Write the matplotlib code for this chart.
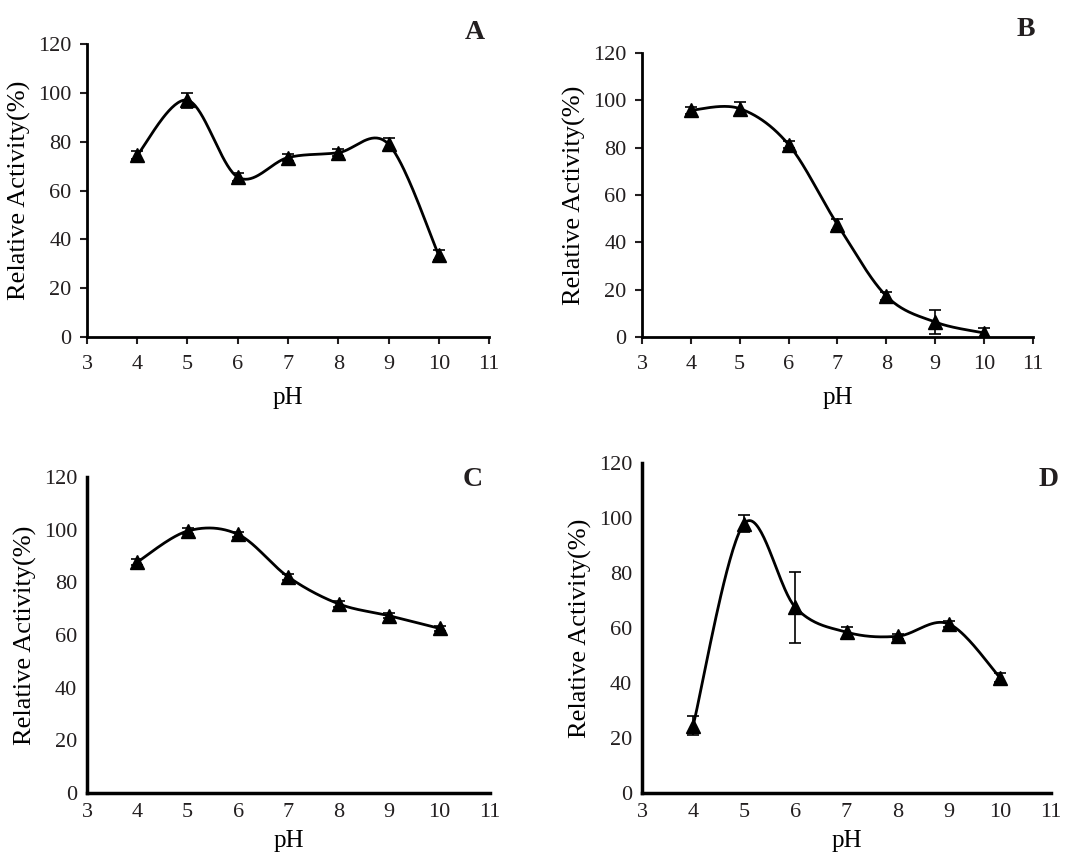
import numpy as np
import matplotlib
matplotlib.use("Agg")
import matplotlib.pyplot as plt

plt.rcParams['font.family'] = ['Liberation Serif', 'DejaVu Serif']
plt.rcParams['text.color'] = '#231f20'
plt.rcParams['xtick.color'] = '#231f20'
plt.rcParams['ytick.color'] = '#231f20'

# pH values shared by all panels
ph = [4, 5, 6, 7, 8, 9, 10]

# panel A
act_a = [74.5, 97, 65.5, 73.5, 75.5, 79, 33.5]
err_a = [1.5, 3, 1.5, 1.5, 1.5, 2.5, 2]
# panel B
act_b = [95.8, 96.5, 81.3, 47.5, 17.3, 6.3, 1.7]
err_b = [1.5, 3, 1.5, 2.5, 1.5, 5, 2]
# panel C
act_c = [87.7, 99.5, 98.2, 82, 71.8, 67.3, 62.5]
err_c = [1, 1, 1, 1, 1, 1, 1]
# panel D
act_d = [24.5, 98, 67.5, 58.5, 57, 61.5, 42]
err_d = [3.5, 3, 13, 2, 1, 1, 1.5]

panels = [
    ("A", act_a, err_a, [0.0809, 0.6077, 0.374, 0.341], True),
    ("B", act_b, err_b, [0.5972, 0.6077, 0.3637, 0.3306], True),
    ("C", act_c, err_c, [0.0809, 0.0768, 0.3749, 0.3679], False),
    ("D", act_d, err_d, [0.5972, 0.0768, 0.3805, 0.3842], False),
]
letter_pos = {"A": (0.442, 0.977), "B": (0.954, 0.980), "C": (0.440, 0.456), "D": (0.975, 0.456)}


def smooth(x, y, n=40):
    # Excel-style smoothed line (Catmull-Rom via Bezier segments)
    p = np.column_stack([x, y]).astype(float)
    ext = np.vstack([p[0], p, p[-1]])
    out = []
    t = np.linspace(0, 1, n)[:, None]
    for i in range(len(p) - 1):
        p0, p1, p2, p3 = ext[i], ext[i + 1], ext[i + 2], ext[i + 3]
        c1 = p1 + (p2 - p0) / 6
        c2 = p2 - (p3 - p1) / 6
        seg = ((1 - t) ** 3) * p1 + 3 * ((1 - t) ** 2) * t * c1 + 3 * (1 - t) * t ** 2 * c2 + t ** 3 * p2
        out.append(seg)
    out = np.vstack(out)
    return out[:, 0], out[:, 1]


fig = plt.figure(figsize=(10.75, 8.59), dpi=100)

for name, act, err, rect, ticks in panels:
    ax = fig.add_axes(rect)
    sx, sy = smooth(ph, act)
    ax.plot(sx, sy, color="black", lw=2)
    ax.errorbar(ph, act, yerr=err, fmt="^", color="black", ms=10,
                ecolor="black", elinewidth=1.2, capsize=4, capthick=1.2)
    ax.set_xlim(3, 11)
    ax.set_ylim(0, 120)
    ax.set_xticks(range(3, 12))
    ax.set_yticks(range(0, 121, 20))
    for s in ["top", "right"]:
        ax.spines[s].set_visible(False)
    lw = 2 if ticks else 2.5
    ax.spines["left"].set_linewidth(lw)
    ax.spines["bottom"].set_linewidth(lw)
    if ticks:
        ax.tick_params(direction="out", length=5, width=1.5, labelsize=16)
        ax.tick_params(axis="y", pad=6)
        ax.tick_params(axis="x", pad=8)
        xpad = 9
    else:
        ax.tick_params(length=0, labelsize=16, pad=7)
        xpad = 6
    ax.set_xlabel("pH", fontsize=18, labelpad=xpad)
    ax.set_ylabel("Relative Activity(%)", fontsize=19, labelpad=5)
    fig.text(*letter_pos[name], name, fontsize=20, fontweight="bold",
             ha="center", va="top")

fig.savefig("out.png", dpi=100)
